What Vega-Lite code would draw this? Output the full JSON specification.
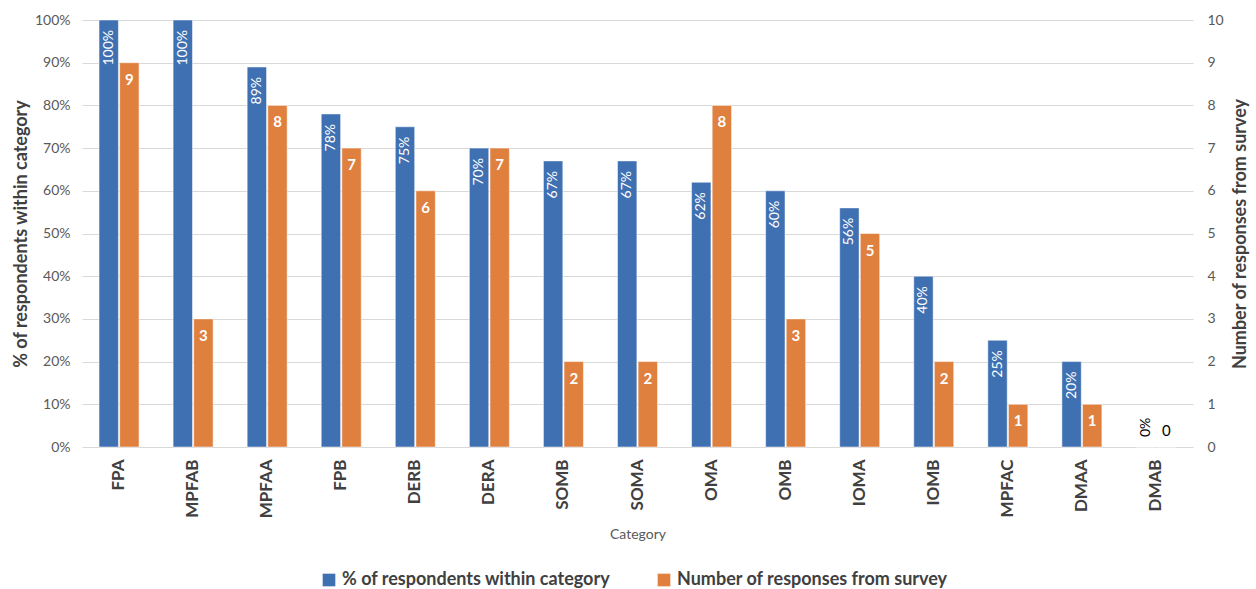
{
  "$schema": "https://vega.github.io/schema/vega-lite/v6.json",
  "width": 1111,
  "height": 427,
  "autosize": {"type": "none"},
  "padding": {"left": 82, "top": 20, "right": 63, "bottom": 142},
  "config": {
    "view": {"stroke": null},
    "font": "Lato",
    "axis": {"domain": false, "ticks": false, "gridColor": "#d9d9d9", "gridWidth": 1.2, "labelColor": "#595959", "labelFontSize": 14, "titleColor": "#404040"},
    "legend": {"labelFontSize": 18, "labelFontWeight": "bold", "labelColor": "#404040", "symbolType": "square", "symbolSize": 160, "symbolStrokeWidth": 0, "columnPadding": 44, "labelLimit": 400}
  },
  "data": {
    "values": [
      {"category": "FPA", "series": "% of respondents within category", "value": 1.00},
      {"category": "MPFAB", "series": "% of respondents within category", "value": 1.00},
      {"category": "MPFAA", "series": "% of respondents within category", "value": 0.89},
      {"category": "FPB", "series": "% of respondents within category", "value": 0.78},
      {"category": "DERB", "series": "% of respondents within category", "value": 0.75},
      {"category": "DERA", "series": "% of respondents within category", "value": 0.70},
      {"category": "SOMB", "series": "% of respondents within category", "value": 0.67},
      {"category": "SOMA", "series": "% of respondents within category", "value": 0.67},
      {"category": "OMA", "series": "% of respondents within category", "value": 0.62},
      {"category": "OMB", "series": "% of respondents within category", "value": 0.60},
      {"category": "IOMA", "series": "% of respondents within category", "value": 0.56},
      {"category": "IOMB", "series": "% of respondents within category", "value": 0.40},
      {"category": "MPFAC", "series": "% of respondents within category", "value": 0.25},
      {"category": "DMAA", "series": "% of respondents within category", "value": 0.20},
      {"category": "DMAB", "series": "% of respondents within category", "value": 0},
      {"category": "FPA", "series": "Number of responses from survey", "value": 9},
      {"category": "MPFAB", "series": "Number of responses from survey", "value": 3},
      {"category": "MPFAA", "series": "Number of responses from survey", "value": 8},
      {"category": "FPB", "series": "Number of responses from survey", "value": 7},
      {"category": "DERB", "series": "Number of responses from survey", "value": 6},
      {"category": "DERA", "series": "Number of responses from survey", "value": 7},
      {"category": "SOMB", "series": "Number of responses from survey", "value": 2},
      {"category": "SOMA", "series": "Number of responses from survey", "value": 2},
      {"category": "OMA", "series": "Number of responses from survey", "value": 8},
      {"category": "OMB", "series": "Number of responses from survey", "value": 3},
      {"category": "IOMA", "series": "Number of responses from survey", "value": 5},
      {"category": "IOMB", "series": "Number of responses from survey", "value": 2},
      {"category": "MPFAC", "series": "Number of responses from survey", "value": 1},
      {"category": "DMAA", "series": "Number of responses from survey", "value": 1},
      {"category": "DMAB", "series": "Number of responses from survey", "value": 0}
    ]
  },
  "encoding": {
    "x": {
      "field": "category",
      "type": "nominal",
      "sort": null,
      "scale": {"paddingInner": 0.46, "paddingOuter": 0.23},
      "axis": {
        "title": "Category",
        "titleFontSize": 14,
        "titleFontWeight": "normal",
        "titleColor": "#595959",
        "titlePadding": 10,
        "labelAngle": 270,
        "labelAlign": "right",
        "labelBaseline": "middle",
        "labelFontSize": 17,
        "labelFontWeight": "bold",
        "labelColor": "#404040",
        "labelPadding": 12,
        "grid": false
      }
    },
    "xOffset": {
      "field": "series",
      "type": "nominal",
      "scale": {"domain": ["% of respondents within category", "Number of responses from survey"], "paddingInner": 0.06}
    }
  },
  "layer": [
    {
      "transform": [{"filter": "datum.series === '% of respondents within category'"}],
      "encoding": {
        "y": {
          "field": "value",
          "type": "quantitative",
          "scale": {"domain": [0, 1]},
          "axis": {
            "orient": "left",
            "title": "% of respondents within category",
            "titleFontSize": 18,
            "titleFontWeight": "bold",
            "titlePadding": 4,
            "labelPadding": 12,
            "format": ".0%",
            "values": [0, 0.1, 0.2, 0.3, 0.4, 0.5, 0.6, 0.7, 0.8, 0.9, 1],
            "grid": true
          }
        }
      },
      "layer": [
        {
          "mark": {"type": "bar", "stroke": "#ffffff", "strokeWidth": 0.5},
          "encoding": {
            "color": {
              "field": "series",
              "type": "nominal",
              "scale": {"domain": ["% of respondents within category", "Number of responses from survey"], "range": ["#3F70B2", "#E0803F"]},
              "legend": {"title": null, "orient": "none", "direction": "horizontal", "legendX": 238, "legendY": 551}
            }
          }
        },
        {
          "transform": [{"filter": "datum.value > 0"}],
          "mark": {"type": "text", "angle": 270, "align": "right", "baseline": "middle", "dx": -10, "fontSize": 14, "color": "#ffffff"},
          "encoding": {
            "text": {"field": "value", "type": "quantitative", "format": ".0%"}
          }
        },
        {
          "transform": [{"filter": "datum.value === 0"}],
          "mark": {"type": "text", "angle": 270, "align": "left", "baseline": "middle", "dx": 10, "fontSize": 14, "color": "#000000"},
          "encoding": {
            "text": {"field": "value", "type": "quantitative", "format": ".0%"}
          }
        }
      ]
    },
    {
      "transform": [{"filter": "datum.series === 'Number of responses from survey'"}],
      "encoding": {
        "y": {
          "field": "value",
          "type": "quantitative",
          "scale": {"domain": [0, 10]},
          "axis": {
            "orient": "right",
            "title": "Number of responses from survey",
            "titleFontSize": 18,
            "titleFontWeight": "bold",
            "titleAngle": 270,
            "titlePadding": 26,
            "labelPadding": 14,
            "values": [0, 1, 2, 3, 4, 5, 6, 7, 8, 9, 10],
            "grid": false
          }
        }
      },
      "layer": [
        {
          "mark": {"type": "bar", "stroke": "#ffffff", "strokeWidth": 0.5},
          "encoding": {
            "color": {"field": "series", "type": "nominal"}
          }
        },
        {
          "transform": [{"filter": "datum.value > 0"}],
          "mark": {"type": "text", "baseline": "middle", "dy": 17, "fontSize": 15, "fontWeight": "bold", "color": "#ffffff"},
          "encoding": {
            "text": {"field": "value", "type": "quantitative"}
          }
        },
        {
          "transform": [{"filter": "datum.value === 0"}],
          "mark": {"type": "text", "baseline": "middle", "dy": -16, "fontSize": 15, "color": "#000000"},
          "encoding": {
            "text": {"field": "value", "type": "quantitative"}
          }
        }
      ]
    }
  ],
  "resolve": {"scale": {"y": "independent"}}
}
